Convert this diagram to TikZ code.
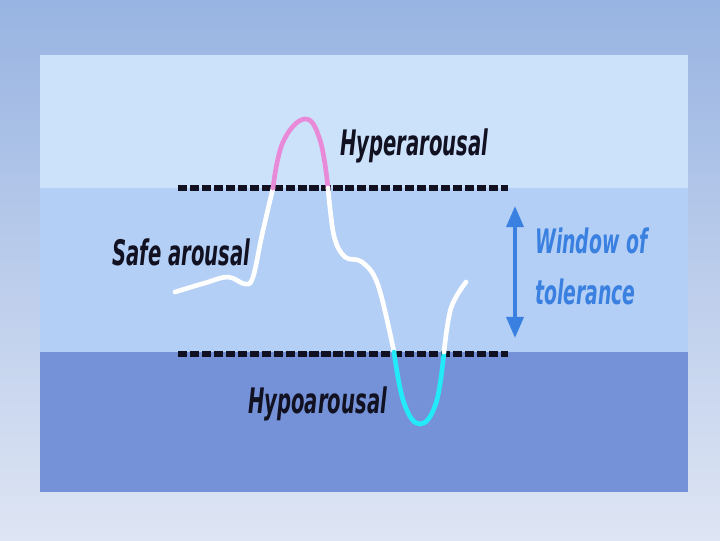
\documentclass[tikz,border=0pt]{standalone}
\usepackage{fontspec}
\usetikzlibrary{arrows.meta}
\newfontfamily\labelfont{DejaVu Sans Condensed}[FakeStretch=0.62]

\definecolor{bgtop}{HTML}{98B4E2}
\definecolor{bgbot}{HTML}{DEE5F4}
\definecolor{hyperband}{HTML}{CCE2FA}
\definecolor{safeband}{HTML}{B4CFF5}
\definecolor{hypoband}{HTML}{7592D8}
\definecolor{hypercurve}{HTML}{E98AD8}
\definecolor{hypocurve}{HTML}{22EAF8}
\definecolor{windowblue}{HTML}{3A80E0}
\definecolor{labelink}{HTML}{111122}

\tikzset{
  zonelabel/.style={font=\labelfont\bfseries\itshape\fontsize{25}{28}\selectfont, text=labelink, inner sep=0pt},
  windowlabel/.style={font=\labelfont\bfseries\itshape\fontsize{24}{28}\selectfont, text=windowblue, inner sep=0pt},
  limit/.style={line width=4.2pt, labelink, dash pattern=on 6.5pt off 2pt},
  arousal/.style={line width=3.3pt, line cap=round},
  window/.style={line width=2.9pt, windowblue, {Triangle[width=12pt,length=15pt]}-{Triangle[width=12pt,length=15pt]}}
}

\begin{document}
\begin{tikzpicture}[x=0.025cm, y=-0.025cm]
    \useasboundingbox (0,0) rectangle (720,540);
    \shade[top color=bgtop, bottom color=bgbot] (0,0) rectangle (720,540);

    % the three zones
    \fill[hyperband] (40,55) rectangle (688,188);
    \fill[safeband] (40,188) rectangle (688,352);
    \fill[hypoband] (40,352) rectangle (688,492);

    % limits of the window
    \coordinate (uppera) at (178,188);
    \coordinate (upperb) at (508,188);
    \coordinate (lowera) at (178,354);
    \coordinate (lowerb) at (508,354);
    \draw[limit] (uppera) -- (upperb);
    \draw[limit] (lowera) -- (lowerb);

    % arousal curve
    \draw[arousal, white] plot[smooth, tension=0.6] coordinates
        {(175,292) (205,283) (228,277) (245,284) (253,277) (262,235) (273,188)};
    \draw[arousal, hypercurve] plot[smooth, tension=0.7] coordinates
        {(273,188) (283,142) (305,119) (320,140) (328,188)};
    \draw[arousal, white] plot[smooth, tension=0.6] coordinates
        {(328,188) (334,236) (345,257) (362,262) (378,285) (394,352)};
    \draw[arousal, hypocurve] plot[smooth, tension=0.7] coordinates
        {(394,352) (404,403) (420,424) (436,403) (444,352)};
    \draw[arousal, white] plot[smooth, tension=0.6] coordinates
        {(444,352) (451,308) (466,282)};

    % labels
    \node[zonelabel, anchor=west] (hyper) at (340,146) {Hyperarousal};
    \node[zonelabel, anchor=west] (safe) at (112,252) {Safe arousal};
    \node[zonelabel, anchor=west] (hypo) at (248,404) {Hypoarousal};
    \node[windowlabel, anchor=base west] (winlabel) at (535,253) {Window of};
    \node[windowlabel, anchor=base west] (tollabel) at (535,304) {tolerance};

    \coordinate (wintop) at (515,206);
    \coordinate (winbot) at (515,338);
    \draw[window] (wintop) -- (winbot);
\end{tikzpicture}
\end{document}
